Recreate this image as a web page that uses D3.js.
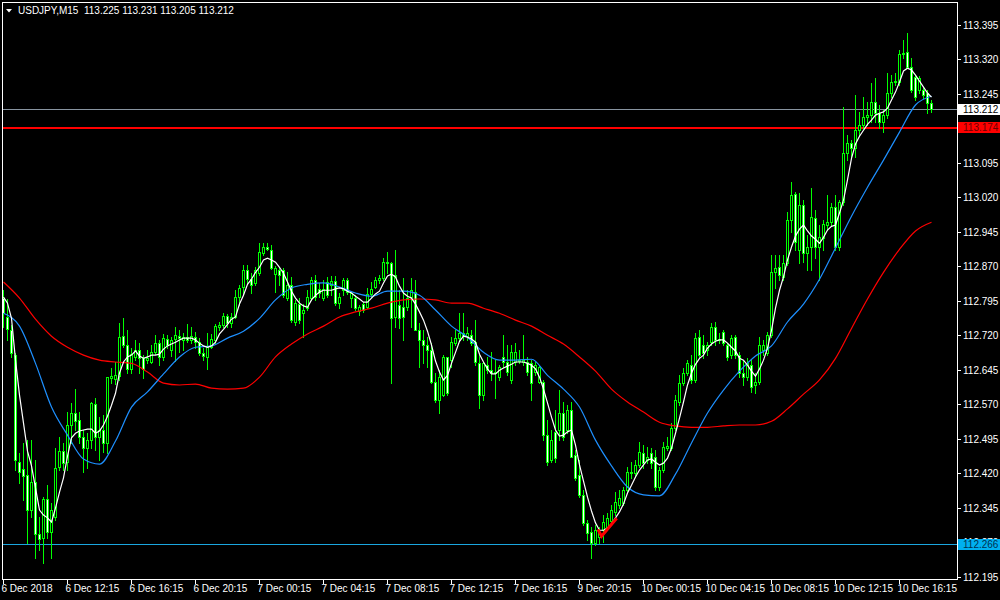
<!DOCTYPE html>
<html><head><meta charset="utf-8">
<script src="https://cdn.jsdelivr.net/npm/d3@7"></script>
<style>body{margin:0;background:#000;overflow:hidden} svg{display:block}</style>
</head><body><svg id="c" width="1000" height="600"></svg>
<script>
// ---- DATA (USDJPY, M15) ----
const symbol = "USDJPY,M15";
const opens = [
112.801,112.760,112.731,112.677,112.444,112.429,112.416,112.340,112.401,112.287,
112.279,112.364,112.292,112.325,112.434,112.468,112.444,112.525,112.551,112.535,
112.499,112.475,112.492,112.570,112.499,112.514,112.486,112.627,112.625,112.631,
112.718,112.699,112.647,112.673,112.688,112.670,112.666,112.662,112.683,112.703,
112.673,112.712,112.688,112.712,112.718,112.709,112.716,112.709,112.716,112.705,
112.681,112.673,112.694,112.709,112.738,112.742,112.762,112.747,112.760,112.803,
112.825,112.862,112.842,112.834,112.855,112.899,112.912,112.905,112.853,112.862,
112.862,112.801,112.829,112.749,112.788,112.768,112.779,112.801,112.840,112.821,
112.801,112.836,112.829,112.838,112.790,112.818,112.840,112.801,112.801,112.773,
112.788,112.781,112.810,112.825,112.840,112.844,112.879,112.877,112.760,112.786,
112.781,112.781,112.803,112.814,112.731,112.709,112.699,112.688,112.618,112.579,
112.590,112.673,112.666,112.703,112.714,112.725,112.718,112.720,112.705,112.659,
112.590,112.655,112.644,112.638,112.629,112.673,112.662,112.623,112.662,112.664,
112.662,112.662,112.659,112.640,112.618,112.618,112.503,112.449,112.510,112.514,
112.551,112.514,112.557,112.460,112.416,112.373,112.312,112.292,112.268,112.281,
112.296,112.303,112.316,112.336,112.351,112.355,112.383,112.420,112.420,112.438,
112.464,112.449,112.464,112.455,112.390,112.427,112.475,112.475,112.518,112.575,
112.616,112.638,112.655,112.623,112.716,112.699,112.688,112.705,112.738,112.709,
112.727,112.699,112.677,112.716,112.677,112.638,112.629,112.655,112.612,112.618,
112.688,112.681,112.720,112.857,112.868,112.847,112.877,112.970,113.027,112.905,
113.003,112.899,112.912,112.975,112.912,112.931,112.960,112.966,112.999,112.912,
113.010,113.116,113.138,113.127,113.166,113.177,113.195,113.199,113.227,113.203,
113.184,113.199,113.247,113.271,113.271,113.331,113.336,113.303,113.282,113.253,
113.253,113.247,113.225];
const highs = [
112.818,112.799,112.742,112.681,112.464,112.486,112.492,112.492,112.449,112.325,
112.368,112.394,112.355,112.475,112.499,112.486,112.553,112.573,112.603,112.553,
112.514,112.507,112.575,112.583,112.542,112.546,112.629,112.649,112.662,112.747,
112.757,112.731,112.692,112.709,112.703,112.677,112.688,112.699,112.720,112.709,
112.722,112.720,112.716,112.738,112.731,112.725,112.744,112.738,112.727,112.714,
112.692,112.725,112.722,112.744,112.749,112.768,112.766,112.768,112.818,112.829,
112.873,112.873,112.855,112.868,112.920,112.920,112.920,112.916,112.871,112.868,
112.866,112.857,112.847,112.797,112.801,112.788,112.818,112.847,112.851,112.834,
112.840,112.847,112.849,112.849,112.812,112.844,112.844,112.814,112.807,112.786,
112.792,112.823,112.836,112.847,112.851,112.888,112.901,112.879,112.905,112.818,
112.844,112.818,112.844,112.840,112.747,112.731,112.716,112.703,112.638,112.644,
112.677,112.673,112.716,112.731,112.768,112.768,112.738,112.731,112.753,112.677,
112.662,112.673,112.683,112.666,112.655,112.720,112.699,112.699,112.703,112.688,
112.720,112.673,112.666,112.662,112.655,112.623,112.535,112.514,112.557,112.601,
112.575,112.568,112.575,112.470,112.449,112.383,112.318,112.303,112.307,112.303,
112.329,112.333,112.351,112.379,112.383,112.390,112.434,112.444,112.449,112.488,
112.481,112.477,112.475,112.470,112.434,112.488,112.499,112.529,112.590,112.633,
112.649,112.666,112.677,112.725,112.731,112.720,112.705,112.747,112.749,112.725,
112.731,112.703,112.720,112.720,112.683,112.666,112.670,112.666,112.638,112.716,
112.709,112.727,112.894,112.894,112.894,112.894,112.988,113.053,113.031,113.029,
113.014,112.938,113.040,112.992,112.960,112.970,113.025,113.007,113.025,113.014,
113.216,113.155,113.144,113.242,113.205,113.238,113.227,113.268,113.279,113.221,
113.210,113.290,113.286,113.290,113.340,113.362,113.377,113.323,113.286,113.284,
113.258,113.253,113.231];
const lows = [
112.738,112.709,112.673,112.427,112.399,112.362,112.268,112.325,112.235,112.253,
112.224,112.279,112.235,112.318,112.427,112.427,112.427,112.486,112.514,112.486,
112.423,112.431,112.475,112.470,112.449,112.466,112.464,112.616,112.614,112.623,
112.694,112.638,112.638,112.666,112.638,112.627,112.659,112.659,112.679,112.655,
112.666,112.692,112.675,112.664,112.683,112.688,112.705,112.703,112.692,112.677,
112.666,112.647,112.692,112.703,112.731,112.738,112.738,112.738,112.757,112.786,
112.808,112.834,112.812,112.829,112.851,112.894,112.905,112.864,112.814,112.829,
112.803,112.797,112.749,112.742,112.747,112.716,112.775,112.797,112.797,112.803,
112.797,112.803,112.807,112.786,112.779,112.807,112.810,112.781,112.775,112.764,
112.770,112.779,112.803,112.823,112.834,112.840,112.855,112.616,112.738,112.736,
112.709,112.775,112.738,112.731,112.651,112.659,112.651,112.616,112.575,112.551,
112.588,112.590,112.651,112.699,112.709,112.709,112.709,112.699,112.655,112.562,
112.579,112.638,112.623,112.583,112.623,112.651,112.633,112.616,112.655,112.659,
112.655,112.633,112.579,112.633,112.616,112.492,112.438,112.444,112.444,112.492,
112.492,112.507,112.455,112.405,112.368,112.307,112.274,112.235,112.264,112.268,
112.270,112.296,112.312,112.329,112.344,112.351,112.377,112.410,112.412,112.434,
112.431,112.442,112.431,112.383,112.383,112.423,112.470,112.470,112.514,112.568,
112.612,112.633,112.616,112.618,112.670,112.670,112.677,112.699,112.699,112.703,
112.699,112.666,112.670,112.670,112.629,112.612,112.623,112.597,112.594,112.614,
112.677,112.677,112.716,112.822,112.840,112.840,112.873,112.944,112.905,112.877,
112.879,112.862,112.862,112.888,112.840,112.905,112.949,112.960,112.905,112.905,
113.003,113.101,113.108,113.108,113.155,113.171,113.177,113.184,113.184,113.171,
113.162,113.192,113.238,113.264,113.264,113.323,113.301,113.249,113.232,113.247,
113.236,113.203,113.205];
const closes = [
112.768,112.733,112.681,112.449,112.423,112.414,112.340,112.401,112.287,112.277,
112.364,112.292,112.340,112.431,112.468,112.442,112.525,112.551,112.533,112.499,
112.475,112.492,112.573,112.499,112.514,112.486,112.629,112.631,112.633,112.716,
112.699,112.647,112.679,112.688,112.670,112.647,112.670,112.683,112.703,112.673,
112.714,112.699,112.709,112.720,112.714,112.716,112.709,112.718,112.705,112.681,
112.675,112.694,112.712,112.740,112.742,112.762,112.747,112.760,112.803,112.823,
112.862,112.842,112.829,112.862,112.901,112.912,112.907,112.866,112.866,112.851,
112.807,112.829,112.753,112.790,112.753,112.775,112.803,112.840,112.803,112.812,
112.821,112.807,112.838,112.790,112.803,112.840,112.814,112.812,112.779,112.781,
112.775,112.810,112.821,112.840,112.844,112.879,112.877,112.757,112.851,112.757,
112.760,112.801,112.818,112.731,112.709,112.699,112.688,112.618,112.579,112.629,
112.673,112.594,112.705,112.714,112.725,112.718,112.725,112.703,112.662,112.590,
112.659,112.644,112.638,112.640,112.651,112.662,112.640,112.683,112.683,112.666,
112.666,112.640,112.616,112.655,112.651,112.503,112.444,112.492,112.453,112.551,
112.499,112.557,112.455,112.410,112.373,112.312,112.290,112.268,112.296,112.290,
112.314,112.322,112.340,112.357,112.366,112.383,112.423,112.423,112.438,112.466,
112.442,112.455,112.442,112.390,112.427,112.477,112.479,112.518,112.579,112.616,
112.638,112.659,112.623,112.714,112.677,112.681,112.699,112.738,112.709,112.712,
112.703,112.673,112.714,112.677,112.638,112.629,112.659,112.607,112.618,112.699,
112.699,112.720,112.857,112.866,112.851,112.877,112.970,113.025,112.923,113.003,
112.899,112.912,112.977,112.912,112.933,112.962,112.966,112.999,112.912,113.010,
113.116,113.138,113.127,113.166,113.177,113.195,113.199,113.227,113.203,113.184,
113.199,113.247,113.271,113.273,113.331,113.334,113.303,113.253,113.238,113.279,
113.242,113.225,113.212];
// fast moving average (white), one value per bar
const maFast = [
112.803,112.790,112.757,112.666,112.590,112.529,112.468,112.436,112.388,112.340,
112.329,112.323,112.314,112.344,112.379,112.410,112.457,112.497,112.507,112.512,
112.514,112.516,112.516,112.507,112.512,112.525,112.544,112.568,112.594,112.638,
112.662,112.673,112.677,112.686,112.675,112.670,112.673,112.677,112.677,112.679,
112.690,112.697,112.701,112.705,112.710,112.714,112.714,112.714,112.710,112.703,
112.697,112.694,112.697,112.705,112.723,112.733,112.744,112.755,112.760,112.788,
112.807,112.831,112.842,112.857,112.868,112.884,112.888,112.884,112.879,112.868,
112.855,112.836,112.816,112.801,112.790,112.784,112.781,112.797,112.807,112.814,
112.818,112.818,112.818,112.821,112.823,112.821,112.816,112.812,112.805,112.799,
112.792,112.792,112.801,112.810,112.816,112.834,112.849,112.853,112.847,112.827,
112.812,112.805,112.801,112.788,112.771,112.753,112.729,112.699,112.664,112.640,
112.623,112.633,112.659,112.683,112.707,112.718,112.716,112.712,112.705,112.679,
112.662,112.647,112.636,112.636,112.644,112.649,112.653,112.657,112.662,112.662,
112.662,112.659,112.655,112.647,112.629,112.603,112.573,112.542,112.514,112.501,
112.503,112.510,112.514,112.481,112.438,112.403,112.368,112.338,112.312,112.296,
112.296,112.301,112.310,112.323,112.336,112.353,112.377,112.394,112.412,112.427,
112.438,112.449,112.451,112.444,112.438,112.442,112.453,112.475,112.507,112.540,
112.575,112.612,112.638,112.657,112.670,112.677,112.692,112.701,112.707,112.710,
112.710,112.703,112.694,112.686,112.670,112.666,112.655,112.642,112.631,112.647,
112.666,112.692,112.731,112.779,112.818,112.847,112.884,112.912,112.936,112.951,
112.960,112.947,112.936,112.929,112.920,112.933,112.949,112.957,112.960,112.986,
113.014,113.058,113.105,113.136,113.153,113.166,113.179,113.188,113.199,113.203,
113.206,113.214,113.232,113.249,113.271,113.295,113.301,113.297,113.286,113.273,
113.260,113.247,113.238];
// medium (blue) and slow (red) moving averages, read every 4th bar
const maStep = 4;
const maMid = [
112.768,112.740,112.659,112.564,112.503,112.451,112.440,112.490,112.564,112.597,
112.636,112.673,112.694,112.697,112.714,112.729,112.757,112.797,112.823,112.831,
112.834,112.825,112.812,112.805,112.816,112.816,112.807,112.775,112.740,112.716,
112.683,112.666,112.666,112.668,112.633,112.603,112.564,112.492,112.436,112.390,
112.373,112.371,112.418,112.486,112.551,112.601,112.642,112.675,112.697,112.749,
112.788,112.842,112.910,112.979,113.042,113.101,113.162,113.221,113.240];
const maSlow = [
112.836,112.801,112.755,112.718,112.694,112.677,112.666,112.662,112.659,112.640,
112.616,112.612,112.614,112.605,112.603,112.605,112.629,112.673,112.701,112.723,
112.740,112.760,112.771,112.779,112.790,112.797,112.799,112.797,112.790,112.790,
112.779,112.768,112.753,112.740,112.720,112.701,112.673,112.642,112.603,112.575,
112.553,112.531,112.523,112.520,112.520,112.523,112.525,112.525,112.533,112.560,
112.592,112.623,112.670,112.735,112.799,112.857,112.907,112.947,112.966];
// red marker drawn on the chart (bar position, price)
const markBars = [148.6, 149.5, 153.3];
const markPrices = [112.298, 112.283, 112.322];
// horizontal levels
const bidLevel = 113.212, redLevel = 113.174, lowLevel = 112.266;
// axis labels
const priceTicks = [113.395,113.320,113.245,113.170,113.095,113.020,112.945,112.870,112.795,112.720,112.645,112.570,112.495,112.420,112.345,112.270,112.195];
const timeTickBars = [0,16,32,48,64,80,96,112,128,144,160,176,192,208,224];
const timeTickLabels = ["6 Dec 2018","6 Dec 12:15","6 Dec 16:15","6 Dec 20:15","7 Dec 00:15","7 Dec 04:15","7 Dec 08:15","7 Dec 12:15","7 Dec 16:15","9 Dec 20:15","10 Dec 00:15","10 Dec 04:15","10 Dec 08:15","10 Dec 12:15","10 Dec 16:15"];

// ---- DRAW ----
const svg = d3.select('#c');
const FONT = '"Liberation Sans", Arial, sans-serif';
const FS = 10;
svg.append('rect').attr('width',1000).attr('height',600).attr('fill','#000');

const n = closes.length;
const x = d3.scaleLinear().domain([0, n-1]).range([3.5, 3.5 + 4*(n-1)]);
const y = d3.scaleLinear().domain([112.190, 113.445]).range([579, 2]);
const px = v => Math.floor(x(v));
const py = v => Math.round(y(v));

svg.append('clipPath').attr('id','pc').append('rect').attr('x',3).attr('y',3).attr('width',954).attr('height',576);
const plot = svg.append('g').attr('clip-path','url(#pc)');

// horizontal levels (behind candles)
const lv = plot.append('g').attr('shape-rendering','crispEdges');
lv.append('rect').attr('x',2).attr('width',955).attr('y',py(bidLevel)).attr('height',1).attr('fill','#8894a0');
lv.append('rect').attr('x',2).attr('width',955).attr('y',py(redLevel)-0.5).attr('height',2).attr('fill','#ff0000');
lv.append('rect').attr('x',2).attr('width',955).attr('y',py(lowLevel)).attr('height',1).attr('fill','#1aa6df');

// candles
const idx = d3.range(n);
const cg = plot.append('g').attr('shape-rendering','crispEdges');
idx.forEach(i => {
  const o = opens[i], c = closes[i];
  const h = Math.max(highs[i], o, c), l = Math.min(lows[i], o, c);
  const cx = px(i);
  const yh = py(h), yl = py(l);
  cg.append('rect').attr('x',cx).attr('y',yh).attr('width',1).attr('height',Math.max(1,yl-yh+1)).attr('fill','#00ff00');
  const top = py(Math.max(o,c)), bot = py(Math.min(o,c));
  cg.append('rect').attr('x',cx-1).attr('y',top).attr('width',3).attr('height',Math.max(1,bot-top+1)).attr('fill','#00ff00');
  if (bot - top >= 2) {
    cg.append('rect').attr('x',cx).attr('y',top+1).attr('width',1).attr('height',bot-top-1)
      .attr('fill', c >= o ? '#000000' : '#ffffff');
  }
});

// moving averages
const slowPts = maSlow.map((v,k)=>[k*maStep, v]);
const midPts = maMid.map((v,k)=>[k*maStep, v]);
const fastPts = maFast.map((v,i)=>[i, v]);
const lineGen = d3.line().x(d=>x(d[0])).y(d=>y(d[1]));
plot.append('path').attr('d', lineGen.curve(d3.curveMonotoneX)(slowPts)).attr('fill','none').attr('stroke','#ff0000').attr('stroke-width',1.2);
plot.append('path').attr('d', lineGen.curve(d3.curveMonotoneX)(midPts)).attr('fill','none').attr('stroke','#1e90ff').attr('stroke-width',1.2);
plot.append('path').attr('d', lineGen.curve(d3.curveLinear)(fastPts)).attr('fill','none').attr('stroke','#ffffff').attr('stroke-width',1.2);
plot.append('path').attr('d', lineGen.curve(d3.curveLinear)(markBars.map((b,k)=>[b, markPrices[k]]))).attr('fill','none').attr('stroke','#ff0000').attr('stroke-width',3).attr('stroke-linejoin','miter');

// frame
const fr = svg.append('g').attr('shape-rendering','crispEdges').attr('stroke','#ffffff').attr('stroke-width',1);
fr.append('line').attr('x1',2.5).attr('x2',2.5).attr('y1',2).attr('y2',580);
fr.append('line').attr('x1',2).attr('x2',958).attr('y1',2.5).attr('y2',2.5);
fr.append('line').attr('x1',957.5).attr('x2',957.5).attr('y1',2).attr('y2',580);
fr.append('line').attr('x1',2).attr('x2',958).attr('y1',579.5).attr('y2',579.5);

// price axis
const pa = svg.append('g');
priceTicks.forEach(t => {
  const yy = py(t) + 0.5;
  pa.append('line').attr('x1',958).attr('x2',961).attr('y1',yy).attr('y2',yy).attr('stroke','#fff').attr('shape-rendering','crispEdges');
  pa.append('text').attr('x',963).attr('y',yy).attr('dy','0.35em').attr('fill','#fff')
    .attr('font-family',FONT).attr('font-size',FS).text(d3.format('.3f')(t));
});
// level boxes
function levelBox(v, bg, fg){
  const yy = py(v) + 0.5;
  pa.append('rect').attr('x',958).attr('y',yy-5.5).attr('width',42).attr('height',11).attr('fill',bg);
  pa.append('text').attr('x',963).attr('y',yy).attr('dy','0.35em').attr('fill',fg)
    .attr('font-family',FONT).attr('font-size',FS).text(d3.format('.3f')(v));
}
levelBox(bidLevel,'#ffffff','#000000');
levelBox(redLevel,'#ff0000','#6b0000');
levelBox(lowLevel,'#00b0f0','#003050');

// time axis
const ta = svg.append('g');
timeTickBars.forEach((b,k) => {
  const xx = px(b) + 0.5;
  ta.append('line').attr('x1',xx).attr('x2',xx).attr('y1',580).attr('y2',584).attr('stroke','#fff').attr('shape-rendering','crispEdges');
  ta.append('text').attr('x',px(b)-1.5).attr('y',592).attr('fill','#fff')
    .attr('font-family',FONT).attr('font-size',FS).text(timeTickLabels[k]);
});

// header
svg.append('path').attr('d','M6,9 L12,9 L9,12.5 Z').attr('fill','#fff');
svg.append('text').attr('x',18).attr('y',14).attr('fill','#fff').attr('font-family',FONT).attr('font-size',FS)
  .attr('xml:space','preserve')
  .text(symbol + '  ' + [opens[n-1],highs[n-1],lows[n-1],closes[n-1]].map(d3.format('.3f')).join(' '));
</script>
</body></html>
